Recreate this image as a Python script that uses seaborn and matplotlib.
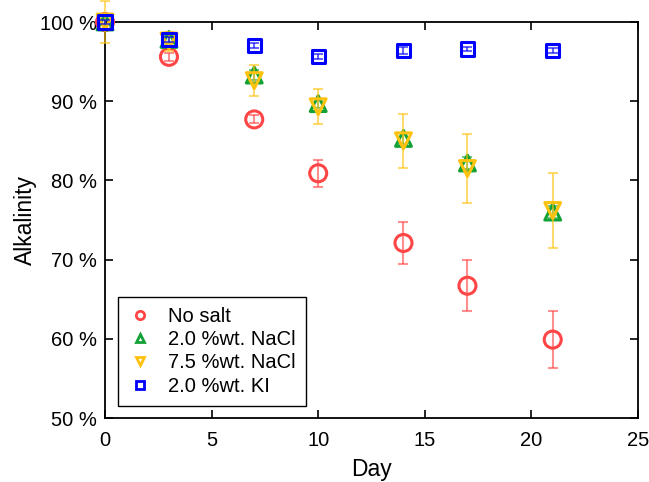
import numpy as np
import pandas as pd
import matplotlib
matplotlib.use("Agg")
import matplotlib.pyplot as plt
import seaborn as sns
from matplotlib.lines import Line2D

days = [0, 3, 7, 10, 14, 17, 21]
series_names = ["No salt", "2.0 %wt. NaCl", "7.5 %wt. NaCl", "2.0 %wt. KI"]
no_salt = [100.0, 95.6, 87.7, 80.9, 72.1, 66.7, 59.9]
no_salt_err = [0.3, 0.5, 0.5, 1.7, 2.6, 3.2, 3.6]
nacl_2 = [100.0, 97.8, 93.3, 89.7, 85.3, 82.2, 76.0]
nacl_2_err = [0.4, 0.5, 0.6, 0.6, 0.7, 0.7, 0.8]
nacl_75 = [100.0, 97.6, 92.6, 89.3, 85.0, 81.5, 76.2]
nacl_75_err = [2.6, 1.2, 2.0, 2.2, 3.4, 4.3, 4.7]
ki_2 = [100.0, 97.8, 97.0, 95.6, 96.4, 96.6, 96.4]
ki_2_err = [0.3, 0.3, 0.3, 0.3, 0.4, 0.3, 0.3]

values = [no_salt, nacl_2, nacl_75, ki_2]
errors = [no_salt_err, nacl_2_err, nacl_75_err, ki_2_err]
colors = ["#ff4545", "#12a135", "#ffc20e", "#0000ff"]
markers = ["o", "^", "v", "s"]
msizes = [150, 130, 130, 90]

rows = []
for name, v, e in zip(series_names, values, errors):
    for d, y, er in zip(days, v, e):
        rows.append({"Day": d, "Alkalinity": y, "err": er, "Series": name})
df = pd.DataFrame(rows)

sns.set_style("ticks")
plt.rcParams["font.family"] = ["Liberation Sans", "DejaVu Sans"]
plt.rcParams["text.color"] = "black"
plt.rcParams["axes.labelcolor"] = "black"
plt.rcParams["xtick.color"] = "black"
plt.rcParams["ytick.color"] = "black"
plt.rcParams["axes.edgecolor"] = "black"

fig = plt.figure(figsize=(6.49, 4.82), dpi=100)
ax = fig.add_axes([105 / 649, 1 - 418 / 482, (638 - 105) / 649, (418 - 22) / 482])

for i, name in enumerate(series_names):
    sub = df[df["Series"] == name]
    ax.errorbar(sub["Day"], sub["Alkalinity"], yerr=sub["err"], fmt="none",
                ecolor=colors[i], alpha=0.6, elinewidth=1.5, capsize=3.5,
                capthick=1.5, zorder=2 + i * 2, clip_on=False)
    sns.scatterplot(data=sub, x="Day", y="Alkalinity", ax=ax, marker=markers[i],
                    s=msizes[i], facecolors="none", edgecolor=colors[i],
                    linewidth=2.2, zorder=3 + i * 2, clip_on=False, legend=False)

ax.set_xlim(0, 25)
ax.set_ylim(50, 100)
ax.set_xticks([0, 5, 10, 15, 20, 25])
ax.set_yticks([50, 60, 70, 80, 90, 100])
ax.set_yticklabels([f"{t} %" for t in [50, 60, 70, 80, 90, 100]])
ax.tick_params(direction="in", top=True, right=True, labelsize=14.5,
               length=6, width=1.2, colors="black")
ax.tick_params(axis="x", pad=9)
ax.tick_params(axis="y", pad=6)
for sp in ax.spines.values():
    sp.set_linewidth(1.3)
    sp.set_color("black")
    sp.set_visible(True)
ax.set_xlabel("Day", fontsize=16.5, labelpad=6, color="black")
ax.set_ylabel("Alkalinity", fontsize=16.5, labelpad=2, color="black")

handles = [Line2D([], [], linestyle="none", marker=markers[i], markersize=6,
                  markerfacecolor="none", markeredgecolor=colors[i],
                  markeredgewidth=2) for i in range(4)]
leg = ax.legend(handles, series_names, loc="lower left",
                bbox_to_anchor=((118 - 105) / 533, (418 - 406) / 396),
                fontsize=14.5, frameon=True, fancybox=False, edgecolor="black",
                handlelength=1.2, handletextpad=0.8, borderpad=0.5,
                labelspacing=0.22, borderaxespad=0)
leg.get_frame().set_linewidth(1.0)
leg.get_frame().set_alpha(1)
for t in leg.get_texts():
    t.set_color("black")

fig.savefig("out.png", dpi=100)
